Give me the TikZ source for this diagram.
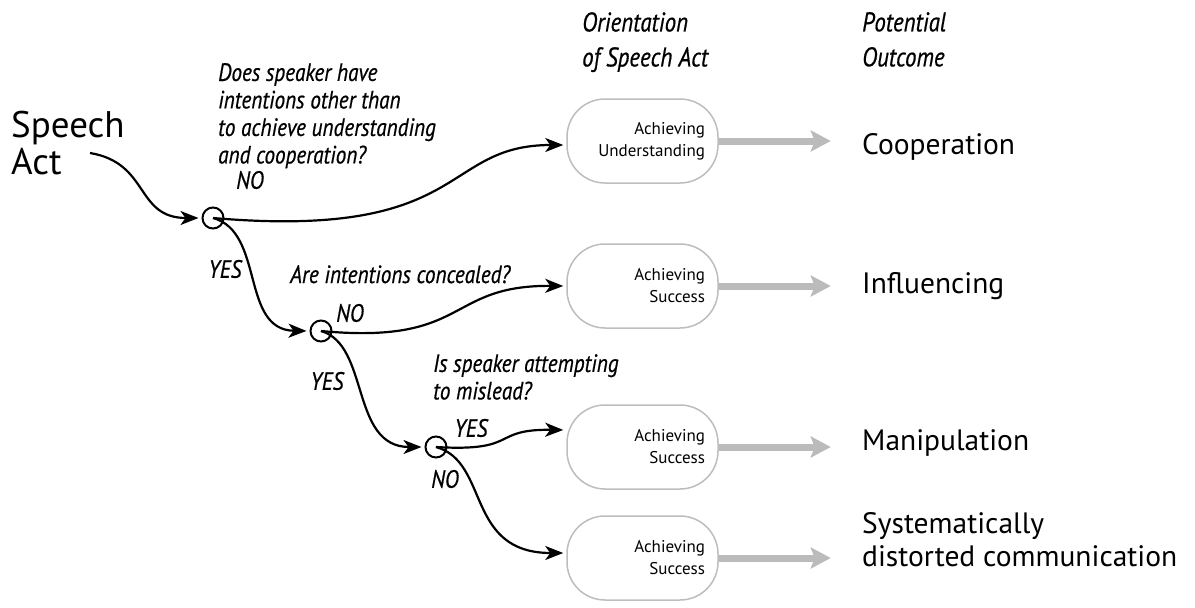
\documentclass[tikz,border=0pt]{standalone}
\usepackage{fontspec}
\setmainfont{PT Sans}
\newfontfamily\condit[FakeStretch=0.85,FakeBold=0.6]{PT Sans}
\usetikzlibrary{arrows.meta,calc}
\definecolor{boxgray}{HTML}{BDBDBD}
\definecolor{arrowgray}{HTML}{BBBBBB}
\begin{document}
\begin{tikzpicture}[x=1pt,y=-1pt,
  decision/.style={circle,draw,line width=2pt,minimum size=21pt,inner sep=0pt},
  flow/.style={line width=2.2pt,-{Stealth[length=18pt,width=14pt,inset=5pt]},shorten >=3pt},
  box/.style={draw=boxgray,line width=1.5pt,rounded corners=38pt,minimum width=151pt,minimum height=84pt,text width=125pt,align=right,inner xsep=13pt,inner ysep=0pt,font=\fontsize{17}{22}\selectfont},
  outarrow/.style={draw=arrowgray,line width=7pt,-{Stealth[length=20pt,width=21pt,inset=4pt]}},
  lab/.style={font=\condit\itshape\fontsize{25}{27.5}\selectfont,inner sep=0pt,align=left},
  head/.style={font=\condit\itshape\fontsize{27}{35}\selectfont,inner sep=0pt,align=left},
  big/.style={font=\fontsize{29.5}{33}\selectfont,inner sep=0pt,align=left},
]
\useasboundingbox (0,0) rectangle (1195,608);

% headers
\node[head,anchor=north west] (h1) at (582,12) {Orientation\\of Speech Act};
\node[head,anchor=north west] (h2) at (862,12) {Potential\\Outcome};

% start
\node[font=\fontsize{37}{37}\selectfont,inner sep=0pt,align=left,anchor=north west] (sa) at (11,111) {Speech\\Act};
\coordinate (s0) at (90,153);

% decisions
\node[decision] (c1) at (213,218) {};
\node[decision] (c2) at (321,331) {};
\node[decision] (c3) at (436,447) {};

% boxes
\node[box] (b1) at (642.5,141) {Achieving\\Understanding};
\node[box] (b2) at (642.5,286) {Achieving\\Success};
\node[box] (b3) at (642.5,447) {Achieving\\Success};
\node[box] (b4) at (642.5,558) {Achieving\\Success};

% outcomes
\node[big,anchor=west] (o1) at (862,147) {Cooperation};
\node[big,anchor=west] (o2) at (862,286) {Influencing};
\node[big,anchor=west] (o3) at (862,443) {Manipulation};
\node[big,anchor=west] (o4) at (862,540) {Systematically\\distorted communication};

% questions and labels
\node[lab,anchor=north west] (q1) at (218,63) {Does speaker have\\intentions other than\\to achieve understanding\\and cooperation?};
\node[lab,anchor=north west] (q2) at (290,265) {Are intentions concealed?};
\node[lab,anchor=north west] (q3) at (433,354) {Is speaker attempting\\to mislead?};
\node[lab] (n1) at (250,180) {NO};
\node[lab] (y1) at (225,269) {YES};
\node[lab] (n2) at (350,313) {NO};
\node[lab] (y2) at (327,381) {YES};
\node[lab] (y3) at (471,428) {YES};
\node[lab] (n3) at (445,479) {NO};

% connectors
\draw[flow] (s0) .. controls (150,163) and (135,218) .. (c1.west);
\draw[flow] (c1.center) .. controls (470,240) and (440,145) .. ($(b1.west)+(0,4)$);
\draw[flow] (c1.center) .. controls (265,232) and (240,330) .. (c2.west);
\draw[flow] (c2.center) .. controls (470,345) and (445,285) .. (b2.west);
\draw[flow] (c2.center) .. controls (370,345) and (350,447) .. (c3.west);
\draw[flow] (c3.center) .. controls (520,452) and (490,429) .. ($(b3.west)+(0,-17)$);
\draw[flow] (c3.center) .. controls (490,462) and (465,553) .. ($(b4.west)+(0,-5)$);

% outcome arrows
\draw[outarrow] (b1.east) -- ($(b1.east)+(112,0)$);
\draw[outarrow] (b2.east) -- ($(b2.east)+(112,0)$);
\draw[outarrow] (b3.east) -- ($(b3.east)+(112,0)$);
\draw[outarrow] (b4.east) -- ($(b4.east)+(112,0)$);
\end{tikzpicture}
\end{document}
